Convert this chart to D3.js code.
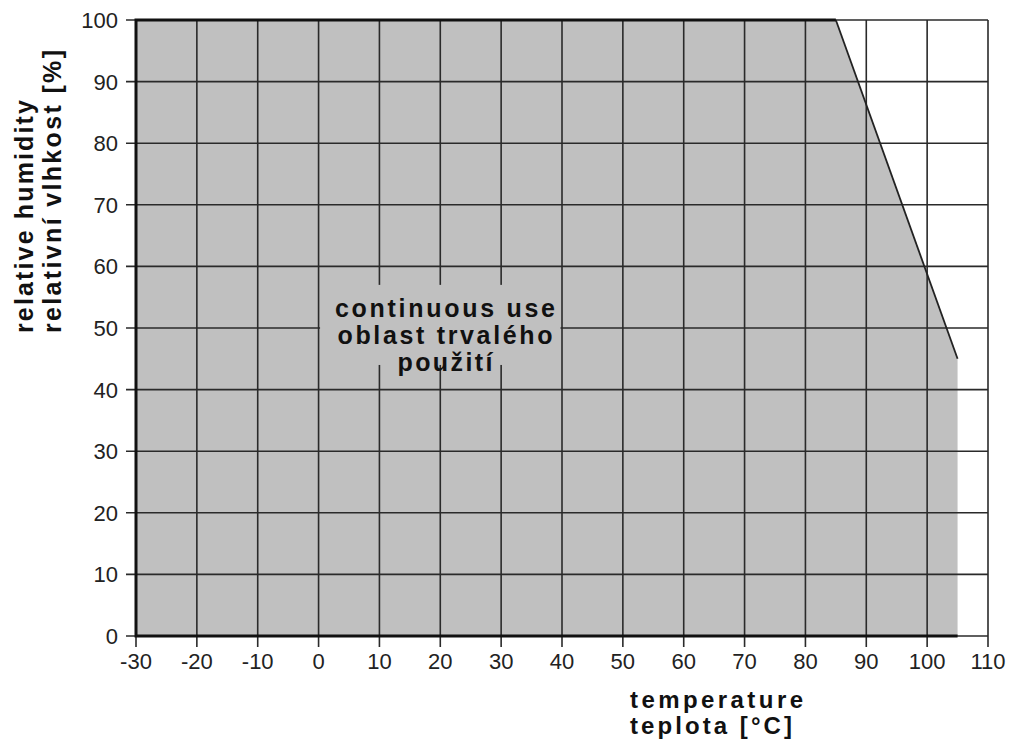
<!DOCTYPE html>
<html lang="en">
    <head>
        <meta charset="utf-8" />
        <title>Operating range</title>
        <script type="text/javascript" src="https://cdn.jsdelivr.net/npm/d3@7"></script>
        <style type="text/css">
            body { margin: 0; background: #fff; }
            text { font-family: "Liberation Sans", Arial, sans-serif; }
        </style>
    </head>
    <body>
        <script type="text/javascript">
            // axis ticks
            var tempTicks = [-30, -20, -10, 0, 10, 20, 30, 40, 50, 60, 70, 80, 90, 100, 110];
            var humTicks = [0, 10, 20, 30, 40, 50, 60, 70, 80, 90, 100];

            // boundary of the continuous use area
            var areaTemp = [-30, -30, 85, 105, 105];
            var areaHum = [0, 100, 100, 45, 0];

            var yTitle = ["relative humidity", "relativní vlhkost [%]"];
            var xTitle = ["temperature", "teplota [°C]"];
            var areaLabel = ["continuous use", "oblast trvalého", "použití"];

            var w = 1016;
            var h = 742;

            var xScale = d3.scaleLinear().domain([-30, 110]).range([136, 988]);
            var yScale = d3.scaleLinear().domain([0, 100]).range([636, 20]);

            var svg = d3.select("body")
                .append("svg")
                .attr("width", w)
                .attr("height", h);

            var pts = areaTemp.map(function(t, i) {
                return [xScale(t), yScale(areaHum[i])];
            });

            // grey area
            svg.append("path")
                .attr("d", d3.line()(pts) + "Z")
                .attr("fill", "#c0c0c0");

            var grid = svg.append("g");

            grid.selectAll("line.v")
                .data(tempTicks)
                .enter()
                .append("line")
                .attr("class", "v")
                .attr("x1", function(d) { return xScale(d); })
                .attr("x2", function(d) { return xScale(d); })
                .attr("y1", yScale(0) + 11)
                .attr("y2", yScale(100))
                .attr("stroke", "#2a2a2a")
                .attr("stroke-width", 1.6);

            grid.selectAll("line.h")
                .data(humTicks)
                .enter()
                .append("line")
                .attr("class", "h")
                .attr("x1", xScale(-30) - 10)
                .attr("x2", xScale(110))
                .attr("y1", function(d) { return yScale(d); })
                .attr("y2", function(d) { return yScale(d); })
                .attr("stroke", "#2a2a2a")
                .attr("stroke-width", 1.6);

            // label backdrop hides the grid behind the text
            svg.append("rect")
                .attr("x", xScale(0) + 1.5)
                .attr("y", yScale(57))
                .attr("width", xScale(40) - xScale(0) - 3)
                .attr("height", yScale(44) - yScale(57))
                .attr("fill", "#c0c0c0");

            // sloped border
            svg.append("line")
                .attr("x1", pts[2][0]).attr("y1", pts[2][1])
                .attr("x2", pts[3][0]).attr("y2", pts[3][1])
                .attr("stroke", "#222")
                .attr("stroke-width", 1.8);

            // thick borders: left, top, bottom
            svg.append("path")
                .attr("d", d3.line()([pts[2], pts[1], pts[0], pts[4]]))
                .attr("fill", "none")
                .attr("stroke", "#111")
                .attr("stroke-width", 3);

            // tick labels
            svg.selectAll("text.y")
                .data(humTicks)
                .enter()
                .append("text")
                .attr("class", "y")
                .attr("x", xScale(-30) - 18)
                .attr("y", function(d) { return yScale(d) + 8; })
                .attr("text-anchor", "end")
                .attr("font-size", "22px")
                .attr("fill", "#222")
                .text(function(d) { return d; });

            svg.selectAll("text.x")
                .data(tempTicks)
                .enter()
                .append("text")
                .attr("class", "x")
                .attr("x", function(d) { return xScale(d); })
                .attr("y", yScale(0) + 33)
                .attr("text-anchor", "middle")
                .attr("font-size", "22px")
                .attr("fill", "#222")
                .text(function(d) { return d < 0 ? "-" + (-d) : d; });

            // axis titles
            var yTitleLen = [233, 283];
            svg.selectAll("text.yt")
                .data(yTitle)
                .enter()
                .append("text")
                .attr("class", "yt")
                .attr("transform", function(d, i) {
                    return "translate(" + (33 + i * 28) + ",333) rotate(-90)";
                })
                .attr("font-size", "25px")
                .attr("font-weight", "bold")
                .attr("fill", "#111")
                .attr("textLength", function(d, i) { return yTitleLen[i]; })
                .attr("lengthAdjust", "spacing")
                .text(function(d) { return d; });

            var xTitleLen = [173, 162];
            svg.selectAll("text.xt")
                .data(xTitle)
                .enter()
                .append("text")
                .attr("class", "xt")
                .attr("x", 630)
                .attr("y", function(d, i) { return 708 + i * 26; })
                .attr("font-size", "24px")
                .attr("font-weight", "bold")
                .attr("fill", "#111")
                .attr("textLength", function(d, i) { return xTitleLen[i]; })
                .attr("lengthAdjust", "spacing")
                .text(function(d) { return d; });

            // area label
            var labelLen = [220, 215, 95];
            svg.selectAll("text.lab")
                .data(areaLabel)
                .enter()
                .append("text")
                .attr("class", "lab")
                .attr("x", 445)
                .attr("y", function(d, i) { return 317 + i * 27; })
                .attr("text-anchor", "middle")
                .attr("font-size", "25px")
                .attr("font-weight", "bold")
                .attr("fill", "#111")
                .attr("textLength", function(d, i) { return labelLen[i]; })
                .attr("lengthAdjust", "spacing")
                .text(function(d) { return d; });
        </script>
    </body>
</html>
